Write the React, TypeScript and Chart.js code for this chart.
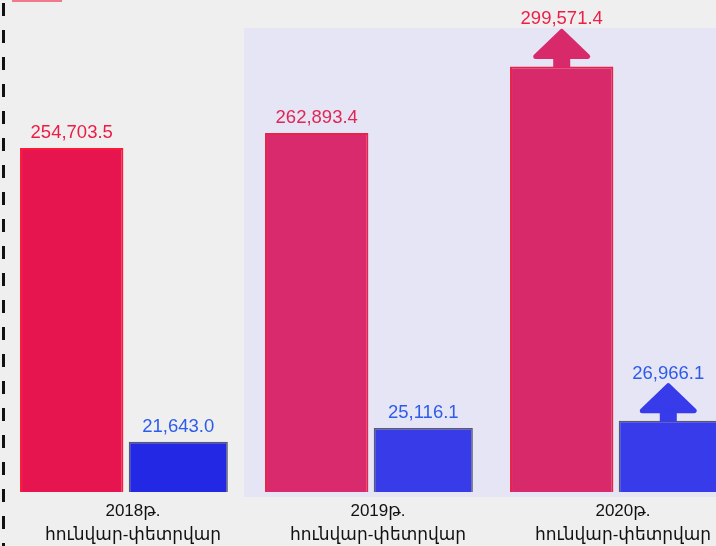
import React, { useEffect, useRef } from "react";
import { Chart, registerables } from "chart.js";

Chart.register(...registerables);

// ---- data ----
const categories: string[][] = [
  ["2018թ.", "հունվար-փետրվար"],
  ["2019թ.", "հունվար-փետրվար"],
  ["2020թ.", "հունվար-փետրվար"],
];
const seriesRed: number[] = [254703.5, 262893.4, 299571.4];
const seriesBlue: number[] = [21643.0, 25116.1, 26966.1];
const growthArrow: boolean[] = [false, false, true];

// ---- axis ranges (infographic uses independent, truncated scales) ----
const redAxisMin = 65329;
const redAxisMax = 325169;
const blueAxisMin = 8893;
const blueAxisMax = 128538;

// ---- styles ----
const redFill = ["#e6144f", "#d82a6c", "#d8296b"];
const redBorder = ["#fb1a3a", "#e6234a", "#e6234a"];
const blueFill = ["#2228e4", "#373be8", "#373be9"];
const blueBorder = ["#5a5a66", "#5a5a66", "#5a5a66"];
const redLabel = ["#ec1c46", "#e02655", "#ee1e48"];
const blueLabel = ["#2d5cea", "#2d5cea", "#2d5cea"];
const FONT = "'Liberation Sans', Arial, 'DejaVu Sans', sans-serif";

function fmt(v: number): string {
  return v.toLocaleString("en-US", { minimumFractionDigits: 1, maximumFractionDigits: 1 });
}

const decorPlugin = {
  id: "decor",
  beforeDraw(chart: any) {
    const ctx = chart.ctx as CanvasRenderingContext2D;
    ctx.save();
    ctx.fillStyle = "#efefef";
    ctx.fillRect(0, 0, chart.width, chart.height);
    // lavender panel
    ctx.fillStyle = "#e5e5f5";
    ctx.fillRect(244, 28, chart.width - 244, 469);
    // dashed left rule
    ctx.strokeStyle = "#111111";
    ctx.lineWidth = 3;
    ctx.setLineDash([13, 14]);
    ctx.beginPath();
    ctx.moveTo(3.5, 3);
    ctx.lineTo(3.5, chart.height);
    ctx.stroke();
    ctx.setLineDash([]);
    // small pink tab top-left
    ctx.fillStyle = "#f07a8c";
    ctx.fillRect(12, 0, 50, 2);
    ctx.restore();
  },
  afterDatasetsDraw(chart: any) {
    const ctx = chart.ctx as CanvasRenderingContext2D;
    ctx.save();
    ctx.font = `18.5px ${FONT}`;
    ctx.textAlign = "center";
    ctx.textBaseline = "alphabetic";
    chart.data.datasets.forEach((ds: any, di: number) => {
      const meta = chart.getDatasetMeta(di);
      meta.data.forEach((bar: any, i: number) => {
        const x = bar.x;
        const top = bar.y;
        const arrow = growthArrow[i];
        if (arrow) {
          const color = ds.backgroundColor[i];
          const headW = 52;
          const headH = 25;
          const stemW = 17;
          const tipY = top - 35;
          const baseY = tipY + headH;
          ctx.fillStyle = color;
          ctx.strokeStyle = color;
          ctx.lineJoin = "round";
          ctx.lineWidth = 5;
          ctx.beginPath();
          ctx.moveTo(x, tipY);
          ctx.lineTo(x + headW / 2, baseY);
          ctx.lineTo(x - headW / 2, baseY);
          ctx.closePath();
          ctx.fill();
          ctx.stroke();
          ctx.fillRect(x - stemW / 2, baseY, stemW, top - baseY + 1);
        }
        ctx.fillStyle = di === 0 ? redLabel[i] : blueLabel[i];
        const y = arrow ? top - 42 : top - 10;
        ctx.fillText(fmt(ds.data[i]), x, y);
      });
    });
    ctx.restore();
  },
};

export default function App() {
  const ref = useRef<HTMLCanvasElement | null>(null);

  useEffect(() => {
    if (!ref.current) return;
    const chart = new Chart(ref.current, {
      type: "bar",
      data: {
        labels: categories,
        datasets: [
          {
            label: "Red series",
            data: seriesRed,
            yAxisID: "y",
            backgroundColor: redFill,
            borderColor: redBorder,
            borderWidth: 2,
            borderSkipped: false,
            categoryPercentage: 0.87,
            barPercentage: 0.97,
          },
          {
            label: "Blue series",
            data: seriesBlue,
            yAxisID: "y1",
            backgroundColor: blueFill,
            borderColor: blueBorder,
            borderWidth: 1.5,
            borderSkipped: false,
            categoryPercentage: 0.87,
            barPercentage: 0.93,
          },
        ],
      },
      options: {
        responsive: false,
        animation: false,
        devicePixelRatio: 1,
        layout: { padding: { top: 20, left: 2.5, right: 2.5, bottom: 0 } },
        plugins: {
          legend: { display: false },
          tooltip: { enabled: false },
        },
        scales: {
          x: {
            grid: { display: false, drawTicks: false },
            border: { display: false },
            ticks: {
              color: "#111111",
              font: { family: FONT, size: 17, lineHeight: 1.42 },
              padding: 7,
              labelOffset: 8,
              maxRotation: 0,
              autoSkip: false,
            },
            afterFit(scale: any) {
              scale.height = 54;
            },
          },
          y: {
            display: false,
            min: redAxisMin,
            max: redAxisMax,
          },
          y1: {
            display: false,
            min: blueAxisMin,
            max: blueAxisMax,
          },
        },
      },
      plugins: [decorPlugin],
    });
    return () => chart.destroy();
  }, []);

  return (
    <div
      style={{
        position: "fixed",
        left: 0,
        top: 0,
        width: 716,
        height: 546,
        overflow: "hidden",
      }}
    >
      <canvas ref={ref} width={740} height={546} style={{ display: "block" }} />
    </div>
  );
}
